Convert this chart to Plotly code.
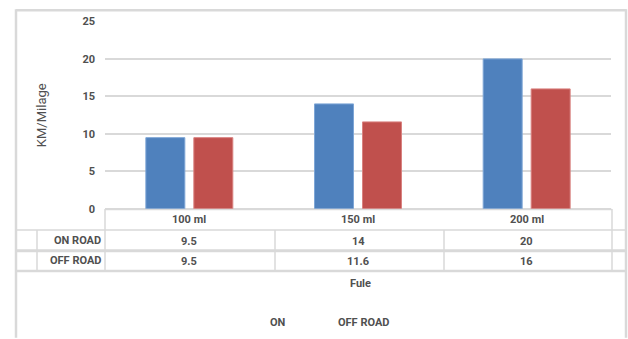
import plotly.graph_objects as go

categories = ["100 ml", "150 ml", "200 ml"]
on_road = [9.5, 14, 20]
off_road = [9.5, 11.6, 16]
series_names = ["ON ROAD", "OFF ROAD"]
legend_labels = ["ON", "OFF ROAD"]
y_ticks = [0, 5, 10, 15, 20, 25]
y_title = "KM/Milage"
x_title = "Fule"

W, H = 628, 339
def px(x):
    return x / W
def py(y):
    return 1 - y / H

FONT = "Liberation Sans Narrow, Roboto, Liberation Sans, sans-serif"
TXT = "#505050"
LINE = "#d9d9d9"

fig = go.Figure()
fig.add_trace(go.Bar(x=categories, y=on_road, name=series_names[0],
                     marker=dict(color="#4f81bd", line=dict(color="#7ea6d6", width=1))))
fig.add_trace(go.Bar(x=categories, y=off_road, name=series_names[1],
                     marker=dict(color="#c0504d", line=dict(color="#d98280", width=1))))

x0, x1 = 105, 611
y_top, y_zero = 16, 211

fig.update_layout(
    width=W, height=H, margin=dict(l=0, r=0, t=0, b=0),
    paper_bgcolor="white", plot_bgcolor="white",
    showlegend=False,
    barmode="group", bargap=0.431, bargroupgap=0.1875,
    font=dict(family=FONT, size=11, color=TXT),
    xaxis=dict(domain=[px(x0), px(x1)], showticklabels=False, showgrid=False,
               zeroline=False, showline=False, fixedrange=True),
    yaxis=dict(domain=[py(y_zero), py(y_top)], range=[0, 25], tickvals=y_ticks,
               showgrid=True, gridcolor=LINE, gridwidth=1.5, zeroline=True,
               zerolinecolor=LINE, zerolinewidth=1.5, showline=False,
               ticklabelstandoff=9,
               tickfont=dict(family=FONT, size=11, color=TXT, weight="bold")),
)

shapes = []
def hline(y, xa, xb, w=1.5):
    shapes.append(dict(type="line", xref="paper", yref="paper", x0=px(xa), x1=px(xb),
                       y0=py(y), y1=py(y), line=dict(color=LINE, width=w)))
def vline(x, ya, yb, w=1.5):
    shapes.append(dict(type="line", xref="paper", yref="paper", x0=px(x), x1=px(x),
                       y0=py(ya), y1=py(yb), line=dict(color=LINE, width=w)))

# outer border
hline(4.5, 16, 626.5, 2.5)
vline(16, 3.5, 345, 2.5)
vline(626, 3.5, 345, 2.5)
# table grid
hline(211.5, 105, 612)
hline(233, 16, 626)
hline(254.5, 16, 626, 3)
hline(275.5, 16, 626, 2.5)
vline(105, 211, 275)
vline(612, 211, 275)
vline(37, 233, 275)
vline(275, 233, 275)
vline(444, 233, 275)

annotations = []
bold = dict(family=FONT, size=11, color=TXT, weight="bold")
for c in categories:
    annotations.append(dict(x=c, y=py(221.5), xref="x", yref="paper", text=c,
                            showarrow=False, font=bold, xanchor="center", yanchor="middle"))
row_y = [244.5, 266]
head_y = [243.5, 264.5]
for vals, name, ry, hy in zip([on_road, off_road], series_names, row_y, head_y):
    annotations.append(dict(x=px(103), y=py(hy), xref="paper", yref="paper", text=name,
                            showarrow=False, font=bold, xanchor="right", yanchor="middle"))
    for c, v in zip(categories, vals):
        annotations.append(dict(x=c, y=py(ry), xref="x", yref="paper", text=f"{v:g}",
                                showarrow=False, font=bold, xanchor="center", yanchor="middle"))
annotations.append(dict(x=px(360), y=py(288.5), xref="paper", yref="paper", text=x_title,
                        showarrow=False, font=bold, xanchor="center", yanchor="middle"))
annotations.append(dict(x=px(41), y=py(113.5), xref="paper", yref="paper", text=y_title,
                        textangle=-90, showarrow=False,
                        font=dict(family=FONT, size=13, color=TXT),
                        xanchor="center", yanchor="middle"))
for lbl, lx in zip(legend_labels, [277.5, 363]):
    annotations.append(dict(x=px(lx), y=py(329.5), xref="paper", yref="paper", text=lbl,
                            showarrow=False, font=bold, xanchor="center", yanchor="middle"))

fig.update_layout(shapes=shapes, annotations=annotations)
fig.write_html("out.html")
